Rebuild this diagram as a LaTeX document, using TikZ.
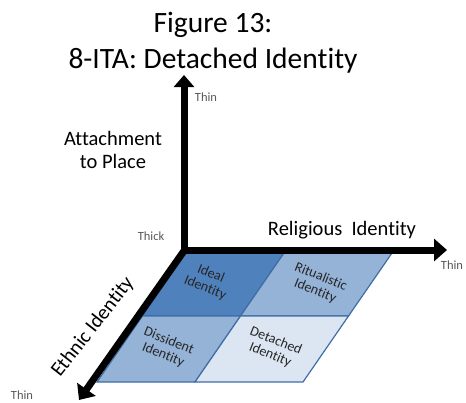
\documentclass[tikz,border=0pt]{standalone}
\usepackage{fontspec}
\setmainfont{Carlito}[Ligatures=NoCommon]
\usetikzlibrary{arrows.meta}
\definecolor{idealc}{HTML}{4F81BD}
\definecolor{midc}{HTML}{95B3D7}
\definecolor{lightc}{HTML}{DCE6F2}
\definecolor{cellborder}{HTML}{3F6DA8}
\definecolor{celltext}{HTML}{262626}
\definecolor{smalltext}{HTML}{595959}
\begin{document}
\begin{tikzpicture}[x=1pt,y=-1pt,
  axisline/.style={line width=7pt, line join=miter},
  tipstyle/.style={-{Triangle[length=13pt,width=22pt]}},
  cell/.style={draw=cellborder, line width=1.2pt, line join=miter},
  titletext/.style={font=\fontsize{29.5}{34}\selectfont, anchor=base, inner sep=0pt},
  axislabel/.style={font=\fontsize{20.5}{23}\selectfont, inner sep=0pt},
  endlabel/.style={font=\fontsize{12.5}{14}\selectfont, text=smalltext, anchor=base, inner sep=0pt},
  celllabel/.style={font=\fontsize{14}{15}\selectfont, text=celltext, align=center, rotate=-22, inner sep=0pt}]
\useasboundingbox (0,0) rectangle (466,402);
\fill[white] (0,0) rectangle (466,402);
% grid coordinates
\coordinate (a00) at (186,253);
\coordinate (a10) at (284,253);
\coordinate (a20) at (392,253);
\coordinate (a01) at (142.5,316);
\coordinate (a11) at (240.5,316);
\coordinate (a21) at (348.5,316);
\coordinate (a02) at (97,382);
\coordinate (a12) at (195,382);
\coordinate (a22) at (303,382);
% cells
\path[cell, fill=idealc] (a00) -- (a10) -- (a11) -- (a01) -- cycle;
\path[cell, fill=midc] (a10) -- (a20) -- (a21) -- (a11) -- cycle;
\path[cell, fill=midc] (a01) -- (a11) -- (a12) -- (a02) -- cycle;
\path[cell, fill=lightc] (a11) -- (a21) -- (a22) -- (a12) -- cycle;
% cell labels
\node[celllabel] (ideal) at (208,281) {Ideal\\Identity};
\node[celllabel] (ritual) at (318,284) {Ritualistic\\Identity};
\node[celllabel] (dissident) at (166,348) {Dissident\\Identity};
\node[celllabel] (detached) at (273,348) {Detached\\Identity};
% axes
\coordinate (O) at (184,250);
\coordinate (Oin) at (186,248);
\coordinate (top) at (184,75);
\coordinate (right) at (447,250);
\coordinate (bl) at (79,400);
\draw[axisline, {Triangle[length=12pt,width=20pt]}-{Triangle[length=13pt,width=22pt]}] (top) -- (O) -- (right);
\draw[axisline, tipstyle] (Oin) -- (bl);
% titles
\node[titletext] (t1) at (213,32) {Figure 13:};
\node[titletext] (t2) at (213,68) {8-ITA: Detached Identity};
% axis labels
\node[axislabel, anchor=base] (att1) at (113,145) {Attachment};
\node[axislabel, anchor=base] (att2) at (113,168) {to Place};
\node[axislabel, anchor=base] (rel) at (342,235) {Religious\ \ Identity};
\node[axislabel, rotate=52] (eth) at (93,327) {Ethnic Identity};
% end labels
\node[endlabel] (thintop) at (206,101.5) {Thin};
\node[endlabel] (thick) at (151,240) {Thick};
\node[endlabel] (thinright) at (452,269) {Thin};
\node[endlabel] (thinbl) at (22,399) {Thin};
\end{tikzpicture}
\end{document}
